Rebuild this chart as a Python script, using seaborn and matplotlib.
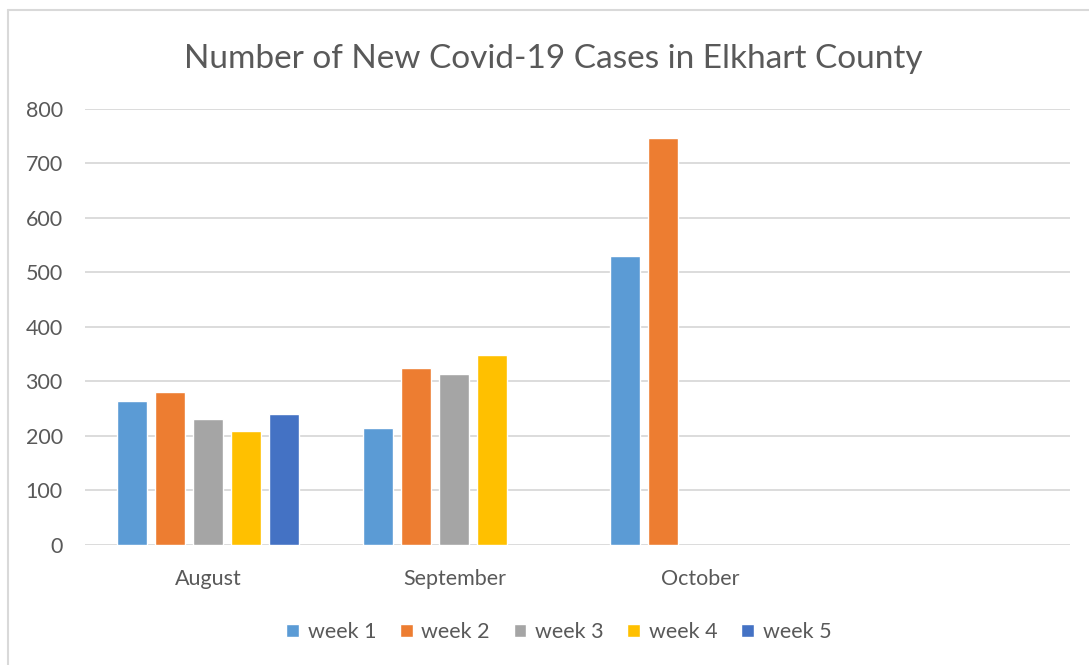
import seaborn as sns
import matplotlib.pyplot as plt
import pandas as pd
import numpy as np
from matplotlib.lines import Line2D

months = ['August', 'September', 'October']
weeks = ['week 1', 'week 2', 'week 3', 'week 4', 'week 5']
cases_august = [264, 281, 231, 210, 241]
cases_september = [215, 325, 314, 349, np.nan]
cases_october = [530, 746, np.nan, np.nan, np.nan]
colors = ['#5B9BD5', '#ED7D31', '#A5A5A5', '#FFC000', '#4472C4']

rows = []
for month, vals in zip(months, [cases_august, cases_september, cases_october]):
    for week, v in zip(weeks, vals):
        rows.append({'month': month, 'week': week, 'cases': v})
df = pd.DataFrame(rows)

sns.set_style('white')
plt.rcParams['font.family'] = ['Lato', 'DejaVu Sans']
text_col = '#595959'

fig = plt.figure(figsize=(10.89, 6.65), dpi=100)
ax = fig.add_axes([0.078, 0.1805, 0.9046, 0.6556])

sns.barplot(data=df, x='month', y='cases', hue='week', order=months,
            hue_order=weeks, palette=colors, width=0.772, gap=0.21,
            saturation=1, ax=ax, legend=True)

ax.set_xlim(-0.5, 3.5)
ax.set_ylim(0, 800)
ax.set_yticks(range(0, 801, 100))
ax.yaxis.grid(True, color='#D9D9D9', linewidth=1.3)
ax.set_axisbelow(True)
for s in ax.spines.values():
    s.set_visible(False)
ax.set_xlabel('')
ax.set_ylabel('')
ax.tick_params(axis='both', length=0, labelsize=15.5, labelcolor=text_col)
ax.tick_params(axis='y', pad=16)
ax.tick_params(axis='x', pad=17)

fig.text(0.508, 0.912, 'Number of New Covid-19 Cases in Elkhart County',
         ha='center', va='center', fontsize=24, color=text_col)

handles, labels = ax.get_legend_handles_labels()
ax.legend(handles, labels, loc='center', bbox_to_anchor=(0.481, -0.2),
          ncol=5, frameon=False, fontsize=15.5, labelcolor=text_col,
          handlelength=0.6, handleheight=0.6, handletextpad=0.4,
          columnspacing=1.1)

fig.add_artist(Line2D([8 / 1089, 8 / 1089], [0, 1 - 10 / 665],
                      transform=fig.transFigure, color='#D9D9D9', lw=1.5))
fig.add_artist(Line2D([8 / 1089, 1], [1 - 10 / 665, 1 - 10 / 665],
                      transform=fig.transFigure, color='#D9D9D9', lw=1.5))

fig.savefig('out.png', dpi=100)
